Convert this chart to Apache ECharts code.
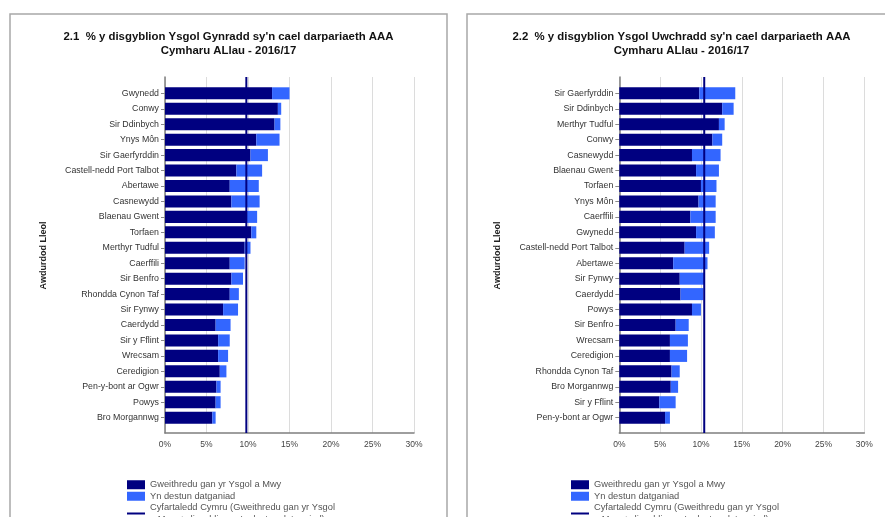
<!DOCTYPE html>
<html>
<head>
<meta charset="utf-8">
<script src="https://cdn.jsdelivr.net/npm/echarts@6/dist/echarts.min.js"></script>
<style>
html,body{margin:0;padding:0;background:#fff;}
#c{width:885px;height:517px;}
</style>
</head>
<body>
<div id="c"></div>
<script>
// ---- Data ----
const cats1 = ['Gwynedd','Conwy','Sir Ddinbych','Ynys Môn','Sir Gaerfyrddin','Castell-nedd Port Talbot','Abertawe','Casnewydd','Blaenau Gwent','Torfaen','Merthyr Tudful','Caerffili','Sir Benfro','Rhondda Cynon Taf','Sir Fynwy','Caerdydd','Sir y Fflint','Wrecsam','Ceredigion','Pen-y-bont ar Ogwr','Powys','Bro Morgannwg'];
const school1 = [12.9,13.6,13.2,11.0,10.3,8.6,7.8,8.0,9.8,10.4,9.6,7.8,8.0,7.8,7.0,6.1,6.4,6.4,6.6,6.2,6.1,5.7];
const stmt1   = [2.1,0.4,0.7,2.8,2.1,3.1,3.5,3.4,1.3,0.6,0.7,1.8,1.4,1.1,1.8,1.8,1.4,1.2,0.8,0.5,0.6,0.4];
const avg1 = 9.8;

const cats2 = ['Sir Gaerfyrddin','Sir Ddinbych','Merthyr Tudful','Conwy','Casnewydd','Blaenau Gwent','Torfaen','Ynys Môn','Caerffili','Gwynedd','Castell-nedd Port Talbot','Abertawe','Sir Fynwy','Caerdydd','Powys','Sir Benfro','Wrecsam','Ceredigion','Rhondda Cynon Taf','Bro Morgannwg','Sir y Fflint','Pen-y-bont ar Ogwr'];
const school2 = [9.8,12.6,12.2,11.4,8.9,9.4,10.0,9.7,8.7,9.4,8.0,6.6,7.4,7.5,8.9,6.9,6.2,6.2,6.4,6.3,4.9,5.6];
const stmt2   = [4.4,1.4,0.7,1.2,3.5,2.8,1.9,2.1,3.1,2.3,3.0,4.2,3.0,2.8,1.1,1.6,2.2,2.1,1.0,0.9,2.0,0.6];
const avg2 = 10.4;

const xMin = 0, xMax = 30, xStep = 5;
const title1 = "2.1  % y disgyblion Ysgol Gynradd sy'n cael darpariaeth AAA\nCymharu ALlau - 2016/17";
const title2 = "2.2  % y disgyblion Ysgol Uwchradd sy'n cael darpariaeth AAA\nCymharu ALlau - 2016/17";
const yTitle = 'Awdurdod Lleol';
const nameSchool = 'Gweithredu gan yr Ysgol a Mwy';
const nameStmt = 'Yn destun datganiad';
const nameAvg = "Cyfartaledd Cymru (Gweithredu gan yr Ysgol a Mwy + disgyblion sy'n destun datganiad)";
const nameAvgWrapped = "Cyfartaledd Cymru (Gweithredu gan yr Ysgol\na Mwy + disgyblion sy'n destun datganiad)";

// ---- Styles ----
const DARK = '#000080';
const LIGHT = '#3366ff';
const FONT = 'Liberation Sans, Arial, sans-serif';

const chart = echarts.init(document.getElementById('c'), null, {renderer:'canvas'});

function frameX(gi){
  return {gridIndex:gi, type:'value', min:xMin, max:xMax, interval:xStep,
    axisLine:{show:true, onZero:true, lineStyle:{color:'#7f7f7f', width:1.5}},
    axisTick:{show:false},
    axisLabel:{formatter:'{value}%', fontSize:8.5, color:'#444', fontFamily:FONT, margin:7},
    splitLine:{show:true, lineStyle:{color:'#dcdcdc', width:1}}};
}
function frameY(gi){
  return {gridIndex:gi, type:'value', min:0, max:1,
    axisLine:{show:true, onZero:true, lineStyle:{color:'#7f7f7f', width:1.5}},
    axisTick:{show:false}, axisLabel:{show:false}, splitLine:{show:false}};
}
function barX(gi){
  return {gridIndex:gi, type:'value', min:xMin, max:xMax, show:false, splitLine:{show:false}};
}
function barY(gi, cats){
  return {gridIndex:gi, type:'category', data:cats, inverse:true,
    axisLine:{show:false},
    axisTick:{show:true, alignWithLabel:true, length:4, lineStyle:{color:'#8a8a8a'}},
    axisLabel:{fontSize:8.8, color:'#333', fontFamily:FONT, margin:6},
    name:yTitle, nameLocation:'middle', nameRotate:90, nameGap:117,
    nameTextStyle:{fontSize:9, fontWeight:'bold', color:'#222', fontFamily:FONT}};
}
function legend(left){
  return {left:left, top:479, height:90, width:300, padding:0, orient:'vertical',
    itemWidth:18, itemHeight:9, itemGap:0,
    data:[{name:nameSchool, icon:'rect'},{name:nameStmt, icon:'rect'},
          {name:nameAvg, icon:'path://M0,0 L18,0 L18,2 L0,2 Z'}],
    formatter:function(n){ return n===nameAvg ? nameAvgWrapped : n; },
    textStyle:{fontSize:9.3, color:'#555', fontFamily:FONT, lineHeight:11.5},
    selectedMode:false};
}
function seriesFor(fx, fy, bx, by, school, stmt, avg){
  return [
    {name:nameSchool, type:'bar', stack:'s'+bx, xAxisIndex:bx, yAxisIndex:by, data:school,
      barCategoryGap:'22%', itemStyle:{color:DARK}, silent:true},
    {name:nameStmt, type:'bar', stack:'s'+bx, xAxisIndex:bx, yAxisIndex:by, data:stmt,
      barCategoryGap:'22%', itemStyle:{color:LIGHT}, silent:true},
    {name:nameAvg, type:'line', xAxisIndex:fx, yAxisIndex:fy, data:[[avg,0],[avg,1]],
      symbol:'none', z:10, lineStyle:{color:DARK, width:2}, itemStyle:{color:DARK}, silent:true}
  ];
}

const option = {
  animation:false,
  backgroundColor:'#fff',
  textStyle:{fontFamily:FONT},
  title:[
    {text:title1, left:223.5, top:25, textAlign:'center',
      textStyle:{fontSize:11.4, fontWeight:'bold', color:'#111', lineHeight:14, fontFamily:FONT}},
    {text:title2, left:676.5, top:25, textAlign:'center',
      textStyle:{fontSize:11.4, fontWeight:'bold', color:'#111', lineHeight:14, fontFamily:FONT}}
  ],
  graphic:[
    {type:'rect', silent:true, shape:{x:10, y:14, width:437, height:600}, style:{fill:null, stroke:'#a8a8a8', lineWidth:1.5}},
    {type:'rect', silent:true, shape:{x:467, y:14, width:500, height:600}, style:{fill:null, stroke:'#a8a8a8', lineWidth:1.5}}
  ],
  grid:[
    {left:165, top:77, width:249, height:356},
    {left:165, top:85.6, width:249, height:339.8},
    {left:619.3, top:77, width:245, height:356},
    {left:619.3, top:85.6, width:245, height:339.8}
  ],
  xAxis:[frameX(0), barX(1), frameX(2), barX(3)],
  yAxis:[frameY(0), barY(1, cats1), frameY(2), barY(3, cats2)],
  legend:[legend(127), legend(571)],
  series:[].concat(
    seriesFor(0,0,1,1,school1,stmt1,avg1),
    seriesFor(2,2,3,3,school2,stmt2,avg2)
  )
};
chart.setOption(option);
</script>
</body>
</html>
